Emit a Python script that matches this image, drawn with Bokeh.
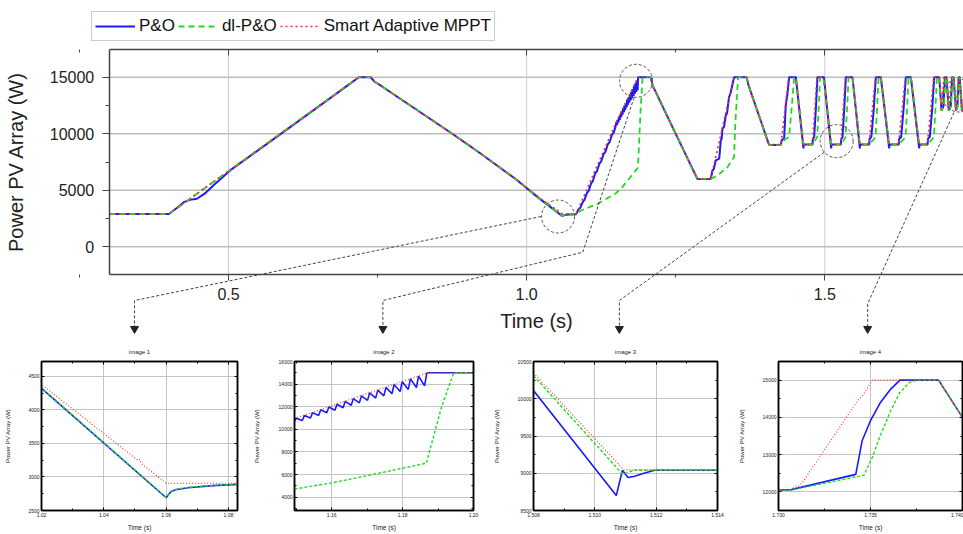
from bokeh.plotting import figure
from bokeh.models import (Range1d, FixedTicker, LinearAxis, Legend, LegendItem,
                          PrintfTickFormatter)
from bokeh.layouts import column, row
from bokeh.embed import file_html
from bokeh.resources import INLINE

FONT = "Liberation Sans"
BLUE = "#1a1aff"
GREEN = "#1fdc1f"
RED = "#ff2a2a"

# ---------------- main plot data (time in s, power in W) ----------------
po_t_a = [0.30, 0.40, 0.415, 0.425, 0.435, 0.447, 0.46, 0.475, 0.49, 0.505, 0.60, 0.70, 0.7186, 0.7383,
          0.745, 0.755, 0.8753, 0.9233, 0.982, 1.02, 1.0600, 1.0615, 1.070, 1.083,
          1.087, 1.090, 1.094, 1.097, 1.101, 1.104, 1.108, 1.111, 1.115, 1.118, 1.122, 1.125,
          1.129, 1.132, 1.136, 1.139, 1.143, 1.146]
po_p_a = [2900, 2900, 3500, 3950, 4150, 4250, 4700, 5450, 6150, 6850, 10450, 14280, 15000, 15000,
          14600, 14270, 10000, 8230, 5980, 4326, 2700, 2780, 2850, 2890,
          3300, 3450, 3950, 4150, 4750, 4950, 5600, 5800, 6500, 6700, 7350, 7550,
          8200, 8400, 9050, 9250, 9900, 10100]
po_t_c = [1.2086, 1.211, 1.2472, 1.2864, 1.3087, 1.3116, 1.3140, 1.3171, 1.3230, 1.3255, 1.3270,
          1.3283, 1.3310, 1.3339, 1.3360, 1.3394, 1.3420, 1.3478, 1.3690, 1.3720, 1.4066, 1.4262,
          1.4280, 1.4318, 1.4346, 1.4374, 1.4402]
po_p_c = [15000, 14300, 10300, 6000, 6000, 6750, 6900, 7637, 7800, 9407, 9550,
          10442, 10600, 11620, 11800, 13240, 13600, 15000, 15000, 14300, 9000, 9000,
          9450, 9550, 12550, 13535, 15000]
po_t_cyc = [1.4514, 1.4642, 1.4645, 1.4646, 1.4653, 1.4793, 1.4800, 1.4821, 1.4849, 1.4877,
            1.4986, 1.5107, 1.5109, 1.5111, 1.5119, 1.5269, 1.5276, 1.5297, 1.5325, 1.5353,
            1.5464, 1.5588, 1.5591, 1.5593, 1.5600, 1.5744, 1.5751, 1.5780, 1.5820, 1.5856,
            1.5940, 1.6080, 1.6083, 1.6085, 1.6092, 1.6240, 1.6247, 1.6280, 1.6320, 1.6359,
            1.6443, 1.6583, 1.6586, 1.6588, 1.6595, 1.6723, 1.6730, 1.6760, 1.6800, 1.6835,
            1.6919, 1.6958, 1.6990, 1.7013, 1.7040, 1.7080, 1.7112, 1.7136, 1.7160, 1.7200,
            1.7225, 1.7248, 1.7262]
po_p_cyc = [15000, 8700, 9040, 8950, 9040, 9040, 9550, 9700, 12100, 15000,
            15000, 8700, 9040, 8950, 9040, 9040, 9550, 9700, 12100, 15000,
            15000, 8700, 9040, 8950, 9040, 9040, 9550, 9700, 12100, 15000,
            15000, 8700, 9040, 8950, 9040, 9040, 9550, 9700, 12100, 15000,
            15000, 8700, 9040, 8950, 9040, 9040, 9550, 9700, 12100, 15000,
            15000, 12050, 12450, 15000, 15000, 12050, 12450, 15000, 15000, 12050,
            12450, 15000, 15000]

sa_t_a = [0.30, 0.40, 0.7186, 0.7383, 0.745, 0.755, 0.8753, 0.9233, 0.982, 1.02, 1.051, 1.0515,
          1.052, 1.06, 1.083, 1.15, 1.1869, 1.2086, 1.211, 1.2472, 1.2864, 1.3087, 1.3478, 1.3690,
          1.3720, 1.4066, 1.4262, 1.4275, 1.4395]
sa_p_a = [2900, 2900, 15000, 15000, 14600, 14270, 10000, 8230, 6000, 4386, 3245, 3260,
          3200, 2906, 2906, 11000, 15000, 15000, 14300, 10300, 6018, 6018, 15000, 15000,
          14300, 9040, 9040, 9500, 15000]
sa_t_cyc = [1.4514, 1.4644, 1.4793, 1.4798, 1.4869,
            1.4975, 1.51095, 1.5269, 1.5274, 1.5345,
            1.5464, 1.5590, 1.5744, 1.5749, 1.5848,
            1.5940, 1.6082, 1.6240, 1.6245, 1.6351,
            1.6443, 1.6585, 1.6723, 1.6728, 1.6827,
            1.6919, 1.6958, 1.6962, 1.6998, 1.7040, 1.7080, 1.7084, 1.7120, 1.7160, 1.7200,
            1.7204, 1.7240, 1.7262]
sa_p_cyc = [15000, 9045, 9045, 9500, 15000,
            15000, 9045, 9045, 9500, 15000,
            15000, 9045, 9045, 9500, 15000,
            15000, 9045, 9045, 9500, 15000,
            15000, 9045, 9045, 9500, 15000,
            15000, 12060, 12250, 15000, 15000, 12060, 12250, 15000, 15000, 12060,
            12250, 15000, 15000]

dl_t_a = [0.30, 0.40, 0.7186, 0.7383, 0.745, 0.755, 0.8753, 0.9233, 0.982, 1.02, 1.0600, 1.0615,
          1.070, 1.083, 1.0911, 1.119, 1.1495, 1.16, 1.17, 1.18, 1.1867, 1.191, 1.1944, 1.2086,
          1.211, 1.2472, 1.2864, 1.3087, 1.320, 1.3367, 1.3478, 1.3500, 1.3546, 1.3690, 1.3720,
          1.4066, 1.4262, 1.4330, 1.4400, 1.4440, 1.4487]
dl_p_a = [2900, 2900, 15000, 15000, 14600, 14270, 10000, 8230, 5980, 4320, 2700, 2780,
          2850, 2890, 3213, 3803, 4720, 5260, 5900, 6560, 7000, 12000, 15000, 15000,
          14300, 10300, 6000, 6000, 6310, 7045, 7930, 11000, 15000, 15000, 14300,
          9000, 9000, 9500, 9700, 12000, 15000]
dl_t_cyc = [1.4514, 1.4644, 1.4648, 1.4793, 1.4872, 1.4900, 1.4922,
            1.4977, 1.5109, 1.5113, 1.5269, 1.5348, 1.5376, 1.5398,
            1.5464, 1.5590, 1.5594, 1.5744, 1.5851, 1.5879, 1.5901,
            1.5940, 1.6082, 1.6086, 1.6240, 1.6354, 1.6382, 1.6404,
            1.6443, 1.6585, 1.6589, 1.6723, 1.6830, 1.6858, 1.6880,
            1.6919, 1.6958, 1.6995, 1.7008, 1.7025, 1.7040, 1.7080, 1.7117, 1.7130, 1.7147,
            1.7160, 1.7200, 1.7230, 1.7240, 1.7257, 1.7262]
dl_p_cyc = [15000, 8990, 9040, 9040, 9700, 12500, 15000,
            15000, 8990, 9040, 9040, 9700, 12500, 15000,
            15000, 8990, 9040, 9040, 9700, 12500, 15000,
            15000, 8990, 9040, 9040, 9700, 12500, 15000,
            15000, 8990, 9040, 9040, 9700, 12500, 15000,
            15000, 12040, 12450, 13500, 15000, 15000, 12040, 12450, 13500, 15000,
            15000, 12040, 12450, 13500, 15000, 15000]

# ---------------- inset data ----------------
i1_po_t = [1.0195, 1.0600, 1.0605, 1.0615, 1.0630, 1.0670, 1.0750, 1.0835]
i1_po_p = [4340, 2690, 2720, 2780, 2810, 2840, 2870, 2890]
i1_dl_t = [1.0195, 1.0600, 1.0606, 1.0616, 1.0630, 1.0670, 1.0750, 1.0835]
i1_dl_p = [4345, 2695, 2725, 2785, 2815, 2845, 2875, 2895]
i1_sa_t = [1.0195, 1.0510, 1.0515, 1.0520, 1.0600, 1.0835]
i1_sa_p = [4395, 3245, 3262, 3200, 2906, 2906]

i2_po_t = [1.1495, 1.1500, 1.1517, 1.1523, 1.1540, 1.1546, 1.1563, 1.1569, 1.1586, 1.1592,
           1.1609, 1.1615, 1.1632, 1.1638, 1.1655, 1.1661, 1.1678, 1.1684, 1.1701, 1.1707,
           1.1724, 1.1730, 1.1747, 1.1753, 1.1770, 1.1776, 1.1793, 1.1799, 1.1816, 1.1822,
           1.1839, 1.1845, 1.1862, 1.1868, 1.1872, 1.2000]
i2_po_p = [10720, 10980, 10780, 11229, 11000, 11477, 11230, 11726, 11460, 11974,
           11690, 12223, 11910, 12472, 12130, 12720, 12340, 12969, 12560, 13217,
           12760, 13466, 12960, 13715, 13150, 13963, 13343, 14212, 13532, 14461,
           13701, 14709, 13849, 14958, 15000, 15000]
i2_dl_t = [1.1495, 1.16, 1.17, 1.18, 1.1867, 1.191, 1.1944, 1.2000]
i2_dl_p = [4720, 5260, 5900, 6560, 7000, 12000, 15000, 15000]
i2_sa_t = [1.1495, 1.1869, 1.2000]
i2_sa_p = [10950, 15000, 15000]

i3_po_t = [1.5080, 1.5107, 1.5109, 1.51108, 1.5113, 1.5116, 1.51195, 1.5140]
i3_po_p = [10110, 8700, 9040, 8944, 8960, 9000, 9040, 9040]
i3_dl_t = [1.5080, 1.5109, 1.5110, 1.5113, 1.5140]
i3_dl_p = [10310, 8990, 9000, 9040, 9040]
i3_sa_t = [1.5080, 1.51095, 1.5140]
i3_sa_p = [10345, 9045, 9045]

i4_po_t = [1.7300, 1.7307, 1.7342, 1.73455, 1.7350, 1.73554, 1.7361, 1.7366, 1.7387, 1.7400, 1.7413]
i4_po_p = [12050, 12060, 12470, 13380, 13910, 14400, 14760, 15000, 15000, 14000, 12000]
i4_dl_t = [1.7300, 1.7307, 1.73464, 1.7351, 1.7355, 1.7361, 1.7366, 1.7371, 1.7375, 1.7387, 1.7400, 1.7413]
i4_dl_p = [12040, 12050, 12445, 12930, 13470, 14180, 14670, 14930, 15000, 15000, 14000, 12000]
i4_sa_t = [1.7300, 1.7307, 1.7309, 1.7311, 1.7313, 1.7343, 1.7346, 1.7351, 1.7387, 1.7400, 1.7413]
i4_sa_p = [12050, 12060, 12150, 12160, 12250, 14450, 14600, 15000, 15000, 14000, 12000]

# callout circles and leader paths (data coordinates of the main plot)
circ_t = [1.0527, 1.1835, 1.5199, 1.725]
circ_p = [2680, 14682, 9340, 13382]
lead_t = [[1.0242, 0.3424, 0.3424], [1.1802, 1.0941, 0.7589, 0.7589],
          [1.4992, 1.1555, 1.1555], [1.7166, 1.5719, 1.5719]]
lead_p = [[2680, -4750, -7250], [13205, -478, -4750, -7250],
          [8367, -4750, -7250], [11878, -5041, -7250]]
head_t = [0.3424, 0.7589, 1.1555, 1.5719]
head_p = [-7250, -7250, -7250, -7250]

main_ticks = [0.5, 1.0, 1.5]
main_minor = [0.25, 0.75, 1.25, 1.75]
main_yticks = [0, 5000, 10000, 15000]
main_yminor = [2500, 7500, 12500]
X0, X1 = 0.3, 1.7326          # plotted time window
Y0, Y1 = -2450, 17450         # plotted power window

# ---------------- main figure ----------------
po_t = po_t_a + i2_po_t + po_t_c + po_t_cyc + i4_po_t
po_p = po_p_a + i2_po_p + po_p_c + po_p_cyc + i4_po_p
sa_t = sa_t_a + sa_t_cyc + i4_sa_t
sa_p = sa_p_a + sa_p_cyc + i4_sa_p
dl_t = dl_t_a + dl_t_cyc + i4_dl_t
dl_p = dl_p_a + dl_p_cyc + i4_dl_p

p = figure(width=963, height=338, x_range=Range1d(0.11765, 1.7326), y_range=Range1d(-8110, 21784),
           output_backend="svg", toolbar_location=None,
           min_border_left=0, min_border_right=0, min_border_top=0, min_border_bottom=0)
p.outline_line_color = None
p.background_fill_color = "white"
p.border_fill_color = "white"
p.xgrid.visible = False
p.ygrid.visible = False

# grid lines of the data window
p.segment(x0=main_ticks, y0=[Y0] * 3, x1=main_ticks, y1=[Y1] * 3,
          line_color="#cccccc", line_width=1)
p.segment(x0=[X0] * 4, y0=main_yticks, x1=[X1] * 4, y1=main_yticks,
          line_color="#bdbdbd", line_width=1.5)

xa = p.xaxis[0]
xa.ticker = FixedTicker(ticks=main_ticks, minor_ticks=main_minor)
xa.formatter = PrintfTickFormatter(format="%.1f")
xa.fixed_location = Y0
xa.bounds = (X0, X1)
ya = p.yaxis[0]
ya.ticker = FixedTicker(ticks=main_yticks, minor_ticks=main_yminor)
ya.formatter = PrintfTickFormatter(format="%d")
ya.fixed_location = X0
ya.bounds = (Y0, Y1)
for ax in (xa, ya):
    ax.axis_line_color = "#444444"
    ax.axis_line_width = 1.5
    ax.major_tick_line_color = "#444444"
    ax.minor_tick_line_color = "#444444"
    ax.major_tick_in = 0
    ax.minor_tick_in = 0
    ax.major_label_text_font = FONT
    ax.major_label_text_font_size = "16px"
    ax.major_label_text_color = "#222222"
    ax.axis_label_text_font = FONT
    ax.axis_label_text_font_size = "20px"
    ax.axis_label_text_font_style = "normal"
    ax.axis_label_text_color = "#222222"
xa.major_tick_out = 6
xa.minor_tick_out = 3
xa.major_label_standoff = 7
xa.axis_label = "Time (s)"
xa.axis_label_standoff = 7
ya.major_tick_out = 7
ya.minor_tick_out = 4
ya.major_label_standoff = 8
ya.axis_label = "Power PV Array (W)"
ya.axis_label_standoff = 20

top = LinearAxis(ticker=FixedTicker(ticks=main_ticks, minor_ticks=main_minor),
                 fixed_location=Y1, bounds=(X0, X1),
                 major_label_text_color=None, major_label_text_font_size="1px",
                 major_tick_in=6, major_tick_out=0, minor_tick_in=3, minor_tick_out=0,
                 major_label_standoff=0, axis_line_color="#444444", axis_line_width=1.5,
                 major_tick_line_color="#444444", minor_tick_line_color="#444444")
p.add_layout(top, "above")

r_po = p.line(po_t, po_p, line_color=BLUE, line_width=2)
r_dl = p.line(dl_t, dl_p, line_color=GREEN, line_width=1.8, line_dash="6 4")
r_sa = p.line(sa_t, sa_p, line_color=RED, line_width=1.6, line_dash="2 3")

# callouts
p.scatter(circ_t, circ_p, marker="circle", size=33, fill_color=None, line_color="#555555",
          line_width=1, line_dash="3 2")
p.multi_line(lead_t, lead_p, line_color="#444444", line_width=1, line_dash="3 2")
p.scatter(head_t, head_p, marker="inverted_triangle", size=8, fill_color="#222222",
          line_color="#222222")

legend = Legend(items=[LegendItem(label="P&O", renderers=[r_po]),
                       LegendItem(label="dl-P&O", renderers=[r_dl]),
                       LegendItem(label="Smart Adaptive MPPT", renderers=[r_sa])],
                orientation="horizontal", location=(91, 297), margin=0,
                border_line_color="#999999", border_line_width=1.5,
                background_fill_color="white", background_fill_alpha=1,
                label_text_font=FONT, label_text_font_size="17px", label_text_color="#111111",
                glyph_width=40, glyph_height=22, label_height=22, label_standoff=4,
                spacing=3, padding=3)
p.add_layout(legend)


# ---------------- insets ----------------
def inset(width, bl, br, xr, yr, xt, xm, yt, ym, xfmt, title, als, series):
    f = figure(width=width, height=196, x_range=Range1d(*xr), y_range=Range1d(*yr),
               output_backend="svg", toolbar_location=None, title=title,
               min_border_left=bl, min_border_right=br, min_border_top=23, min_border_bottom=24)
    f.title.text_font = FONT
    f.title.text_font_size = "6px"
    f.title.text_font_style = "normal"
    f.title.text_color = "#222222"
    f.title.align = "center"
    f.title.standoff = 13
    f.outline_line_color = "black"
    f.outline_line_width = 1.5
    f.xaxis[0].ticker = FixedTicker(ticks=xt, minor_ticks=xm)
    f.xaxis[0].formatter = PrintfTickFormatter(format=xfmt)
    f.yaxis[0].ticker = FixedTicker(ticks=yt, minor_ticks=ym)
    f.yaxis[0].formatter = PrintfTickFormatter(format="%d")
    f.xaxis[0].axis_label = "Time (s)"
    f.yaxis[0].axis_label = "Power PV Array (W)"
    for ax in (f.xaxis[0], f.yaxis[0]):
        ax.axis_line_color = "black"
        ax.axis_line_width = 1.5
        ax.major_tick_in = 3
        ax.major_tick_out = 0
        ax.minor_tick_in = 2
        ax.minor_tick_out = 0
        ax.major_label_standoff = 2
        ax.major_label_text_font = FONT
        ax.major_label_text_font_size = "5px"
        ax.major_label_text_color = "#222222"
        ax.axis_label_text_font = FONT
        ax.axis_label_text_font_style = "normal"
        ax.axis_label_text_color = "#222222"
    f.xaxis[0].axis_label_text_font_size = "6.5px"
    f.xaxis[0].axis_label_standoff = 4
    f.yaxis[0].axis_label_text_font_size = "6px"
    f.yaxis[0].axis_label_standoff = als
    for ticks, minor, side in ((xt, xm, "above"), (yt, ym, "right")):
        f.add_layout(LinearAxis(ticker=FixedTicker(ticks=ticks, minor_ticks=minor),
                                major_label_text_color=None, major_label_text_font_size="1px",
                                major_label_standoff=0, major_tick_in=3, major_tick_out=0,
                                minor_tick_in=2, minor_tick_out=0,
                                axis_line_color="black", axis_line_width=1.5), side)
    f.xgrid.grid_line_color = "#c4c4c4"
    f.ygrid.grid_line_color = "#c4c4c4"
    (pt, pp), (dt, dp), (st, sp) = series
    f.line(pt, pp, line_color=BLUE, line_width=1.6)
    f.line(dt, dp, line_color=GREEN, line_width=1.4, line_dash="3 2")
    f.line(st, sp, line_color=RED, line_width=1.1, line_dash="1 2")
    return f


f1 = inset(250, 41, 13, (1.02, 1.0829), (2500, 4720),
           [1.02, 1.04, 1.06, 1.08], [1.03, 1.05, 1.07],
           [2500, 3000, 3500, 4000, 4500], [2750, 3250, 3750, 4250],
           "%.2f", "image 1", 14,
           ((i1_po_t, i1_po_p), (i1_dl_t, i1_dl_p), (i1_sa_t, i1_sa_p)))
f2 = inset(240, 39, 17, (1.1495, 1.2), (2820, 16000),
           [1.16, 1.18, 1.20], [1.15, 1.17, 1.19],
           [4000, 6000, 8000, 10000, 12000, 14000, 16000],
           [3000, 5000, 7000, 9000, 11000, 13000, 15000],
           "%.2f", "image 2", 16,
           ((i2_po_t, i2_po_p), (i2_dl_t, i2_dl_p), (i2_sa_t, i2_sa_p)))
f3 = inset(245, 40, 18, (1.508, 1.514), (8500, 10500),
           [1.508, 1.510, 1.512, 1.514], [1.509, 1.511, 1.513],
           [8500, 9000, 9500, 10000, 10500], [8750, 9250, 9750, 10250],
           "%.3f", "image 3", 15,
           ((i3_po_t, i3_po_p), (i3_dl_t, i3_dl_p), (i3_sa_t, i3_sa_p)))
f4 = inset(228, 42, 1, (1.730, 1.740), (11500, 15500),
           [1.730, 1.735, 1.740], [1.7325, 1.7375],
           [12000, 13000, 14000, 15000], [11500, 12500, 13500, 14500, 15500],
           "%.3f", "image 4", 15,
           ((i4_po_t, i4_po_p), (i4_dl_t, i4_dl_p), (i4_sa_t, i4_sa_p)))

layout = column(p, row(f1, f2, f3, f4))
open("out.html", "w").write(file_html(layout, INLINE))
